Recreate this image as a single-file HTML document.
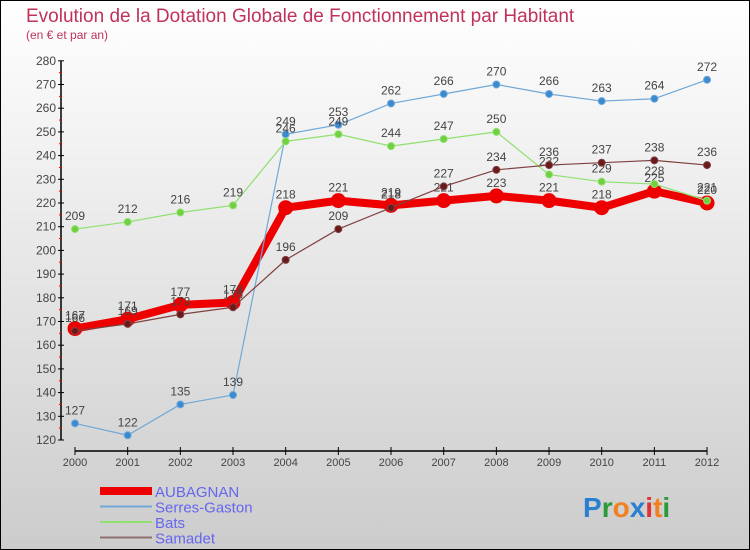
<!DOCTYPE html>
<html><head><meta charset="utf-8"><style>
body{margin:0;width:750px;height:550px;overflow:hidden;font-family:"Liberation Sans",sans-serif}
#wrap{position:absolute;left:0;top:0;width:748px;height:548px;border:1px solid #000;background:linear-gradient(#ffffff,#cccccc)}
text{font-family:"Liberation Sans",sans-serif}
</style></head><body>
<div id="wrap">
<svg id="chart" width="750" height="550" style="position:absolute;left:-1px;top:-1px">
<text x="26" y="22" font-size="19" fill="#c0325a">Evolution de la Dotation Globale de Fonctionnement par Habitant</text>
<text x="26" y="39" font-size="12" fill="#c0325a">(en € et par an)</text>
<g id="axes"></g><g id="series"></g><g id="legend"></g>
<text x="583" y="517" font-size="28" font-weight="bold"><tspan fill="#2a7fd0">P</tspan><tspan fill="#2a9a3a">r</tspan><tspan fill="#f08020">o</tspan><tspan fill="#2a7fd0">x</tspan><tspan fill="#e03030">i</tspan><tspan fill="#f08020">t</tspan><tspan fill="#2a9a3a">i</tspan></text>
</svg></div>
<script>
const years=[2000,2001,2002,2003,2004,2005,2006,2007,2008,2009,2010,2011,2012];
const yTicks=[120,130,140,150,160,170,180,190,200,210,220,230,240,250,260,270,280];
const aubagnan=[167,171,177,178,218,221,219,221,223,221,218,225,220];
const serres=[127,122,135,139,249,253,262,266,270,266,263,264,272];
const bats=[209,212,216,219,246,249,244,247,250,232,229,228,221];
const samadet=[166,169,173,176,196,209,218,227,234,236,237,238,236];
const NS="http://www.w3.org/2000/svg";
const xS=y=>75+(y-2000)*52.67;
const yS=v=>440-(v-120)*2.37;
function mk(t,a,p){const e=document.createElementNS(NS,t);for(const k in a)e.setAttribute(k,a[k]);p.appendChild(e);return e;}
const ax=document.getElementById('axes');
let l=mk('line',{x1:61,y1:yS(280),x2:61,y2:yS(120),stroke:'#000','stroke-width':1.5},ax);

l=mk('line',{x1:75,y1:451,x2:707,y2:451,stroke:'#000','stroke-width':1.5},ax);

yTicks.forEach(v=>{
 mk('line',{x1:58,y1:yS(v),x2:64,y2:yS(v),stroke:'#000'},ax);
 if(v<280)mk('line',{x1:59,y1:yS(v+5),x2:62,y2:yS(v+5),stroke:'#e00'},ax);
 const t=mk('text',{x:56,y:yS(v)+4,'font-size':12,fill:'#444','text-anchor':'end'},ax);t.textContent=v;
 
});
years.forEach(y=>{
 mk('line',{x1:xS(y),y1:447,x2:xS(y),y2:455,stroke:'#000'},ax);
 const t=mk('text',{x:xS(y),y:466,'font-size':11,fill:'#444','text-anchor':'middle'},ax);t.textContent=y;
 
});
const sg=document.getElementById('series');
function series(vals,color,dot,w,r,name){
 const g=mk('g',{},sg);
 
 const p=mk('polyline',{points:vals.map((v,i)=>xS(years[i])+','+yS(v)).join(' '),fill:'none',stroke:color,'stroke-width':w,'stroke-linejoin':'round'},g);
 
 vals.forEach((v,i)=>{
  const c=mk('circle',{cx:xS(years[i]),cy:yS(v),r:r,fill:dot,stroke:color,'stroke-width':1},g);
  
  const t=mk('text',{x:xS(years[i]),y:yS(v)-9,'font-size':12,fill:'#444','text-anchor':'middle'},g);t.textContent=v;
  
 });
}
series(aubagnan,'#ee0000','#ee0000',8,7,'aubagnan');
series(serres,'#70a8d8','#3a8ad0',1.2,3.5,'serres-gaston');
series(bats,'#90e070','#70d040',1.2,3.5,'bats');
series(samadet,'#804040','#6a1a1a',1.2,3.5,'samadet');
const lg=document.getElementById('legend');
[['AUBAGNAN','#ee0000',8],['Serres-Gaston','#70a8d8',2],['Bats','#90e070',2],['Samadet','#907070',2]].forEach((d,i)=>{
 const y=491+i*15.5;
 const g=mk('g',{},lg);
 
 mk('line',{x1:100,y1:y,x2:152,y2:y,stroke:d[1],'stroke-width':d[2]},g);
 const t=mk('text',{x:155,y:y+6,'font-size':15,fill:'#6666ee'},g);t.textContent=d[0];
});
</script>
</body></html>
